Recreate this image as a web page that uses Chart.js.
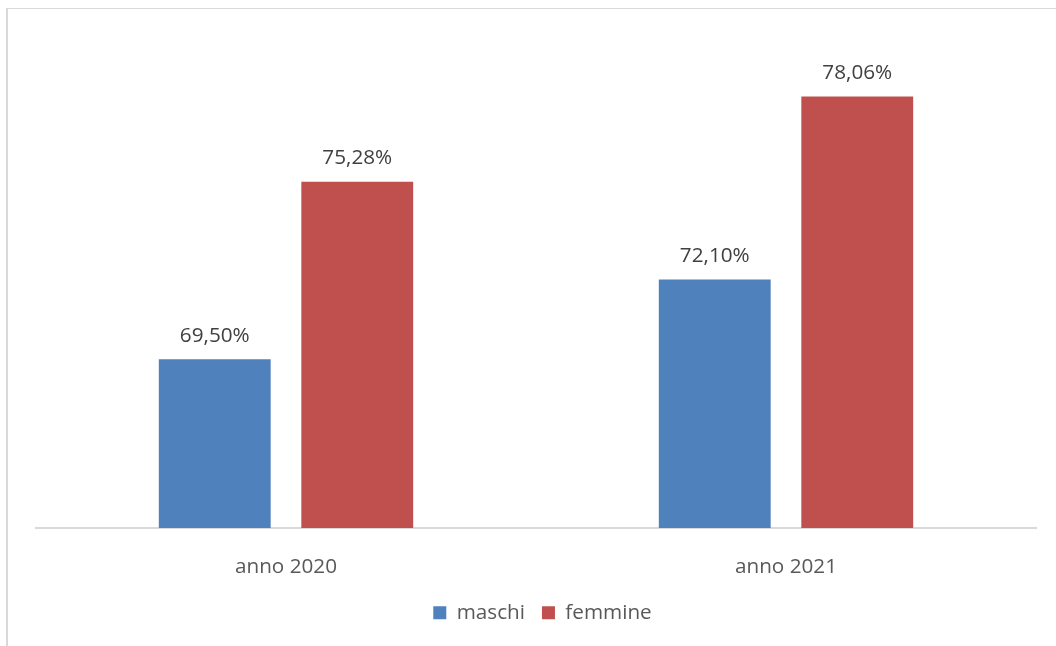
<!DOCTYPE html>
<html lang="it">
<head>
<meta charset="utf-8">
<title>maschi / femmine</title>
<script src="https://cdn.jsdelivr.net/npm/chart.js@4"></script>
<style>
  html, body { margin: 0; padding: 0; background: #ffffff; overflow: hidden; }
  #wrap { position: relative; width: 1056px; height: 646px; }
  #frame {
    position: absolute; left: 6px; top: 8px; width: 1100px; height: 700px;
    border-left: 2px solid #d9d9d9; border-top: 1px solid #d9d9d9;
    box-sizing: border-box;
  }
  #chart { position: absolute; left: 0; top: 0; }
</style>
</head>
<body>
<div id="wrap">
  <div id="frame"></div>
  <canvas id="chart" width="1056" height="646"></canvas>
</div>
<script>
// categories and series
const categories = ['anno 2020', 'anno 2021'];
const maschi = [69.50, 72.10];
const femmine = [75.28, 78.06];
const seriesNames = ['maschi', 'femmine'];

const FONT = '"Open Sans", "Noto Sans", sans-serif';
const FONT_SIZE = 20.7;

function fmtPct(v) {
  return v.toFixed(2).replace('.', ',') + '%';
}

// value labels above each bar
const valueLabels = {
  id: 'valueLabels',
  afterDatasetsDraw(chart) {
    const ctx = chart.ctx;
    ctx.save();
    ctx.font = FONT_SIZE + 'px ' + FONT;
    ctx.fillStyle = '#404040';
    ctx.textAlign = 'center';
    ctx.textBaseline = 'alphabetic';
    chart.data.datasets.forEach((ds, di) => {
      const meta = chart.getDatasetMeta(di);
      meta.data.forEach((bar, i) => {
        ctx.fillText(fmtPct(ds.data[i]), bar.x, bar.y - 17.5);
      });
    });
    ctx.restore();
  }
};

new Chart(document.getElementById('chart'), {
  type: 'bar',
  data: {
    labels: categories,
    datasets: [
      { label: seriesNames[0], data: maschi, backgroundColor: '#4f81bd', borderWidth: 0 },
      { label: seriesNames[1], data: femmine, backgroundColor: '#c0504d', borderWidth: 0 }
    ]
  },
  options: {
    responsive: false,
    devicePixelRatio: 1,
    animation: false,
    layout: { padding: { top: 37, left: 36, right: 7, bottom: 13 } },
    datasets: { bar: { categoryPercentage: 0.57, barPercentage: 0.785 } },
    scales: {
      x: {
        grid: { display: false },
        border: { display: true, color: '#d9d9d9', width: 2 },
        ticks: { color: '#595959', font: { family: FONT, size: FONT_SIZE }, padding: 18.6 },
        afterFit(scale) { scale.height = 57.3; }
      },
      y: {
        position: 'right',
        min: 64,
        max: 80,
        grid: { display: false },
        border: { display: false },
        ticks: { display: false },
        afterFit(scale) { scale.width = 13; }
      }
    },
    plugins: {
      legend: {
        position: 'bottom',
        labels: {
          color: '#595959',
          font: { family: FONT, size: FONT_SIZE },
          boxWidth: 13,
          boxHeight: 13,
          padding: 17
        }
      },
      tooltip: { enabled: false }
    }
  },
  plugins: [valueLabels]
});
</script>
</body>
</html>
